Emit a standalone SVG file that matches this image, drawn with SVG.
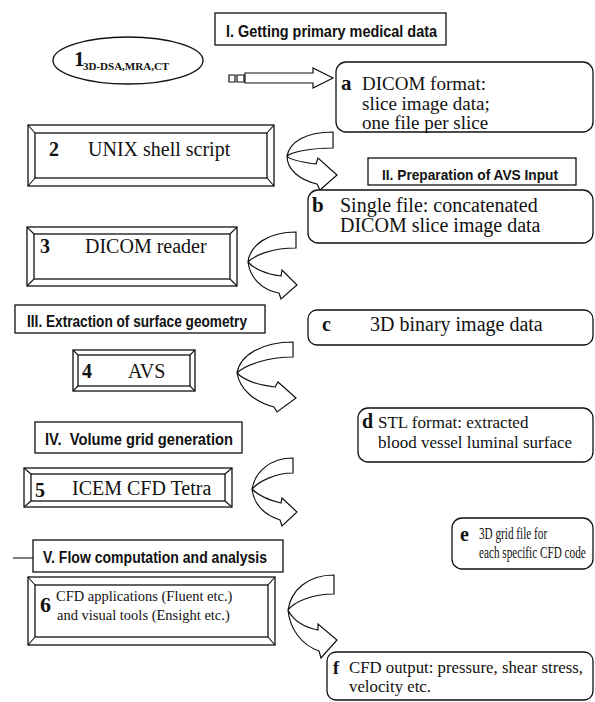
<svg xmlns="http://www.w3.org/2000/svg" width="595" height="702" viewBox="0 0 595 702">
<style>
.bx{fill:#fff;stroke:#111;stroke-width:1.3}
.ln{fill:none;stroke:#111;stroke-width:1.1}
.ar{fill:#fff;stroke:#111;stroke-width:1.2;stroke-linejoin:miter}
.t{font-family:"Liberation Serif","Times New Roman",serif;fill:#111}
.b{font-weight:bold}
.h{font-family:"Liberation Sans Narrow","Arial Narrow","Liberation Sans",Arial,sans-serif;font-weight:bold;fill:#111}
</style>
<rect width="595" height="702" fill="#fff"/>

<g id="connectors">
  <path class="ar" d="M229,75 h6 v7 h-6 Z M237,75 h7 v7 h-7 Z"/>
  <path class="ar" d="M245,73 H313 V68 L333,78 L313,88 V83 H245 Z"/>
  <path class="ar" d="M333,132 C305,132 290,142 287,156 C287,170 300,180 317,184 L320,190 L337,175 L318,158 L316,164 C300,162 290,160 287,156 C292,152 310,148 333,148 Z"/>
  <path class="ar" d="M296,232 C268,232 250,245 248,262 C250,278 262,290 279,293 L281,299 L297,285 L282,270 L281,276 C265,274 253,268 248,262 C255,255 272,248 296,248 Z"/>
  <path class="ar" d="M293,342 C262,342 240,355 237,373 C240,390 255,402 274,407 L277,412 L296,398 L278,382 L275,387 C258,385 244,380 237,373 C245,365 268,357 293,357 Z"/>
  <path class="ar" d="M293,458 C270,458 255,472 252,489 C254,505 265,515 280,520 L282,526 L297,512 L282,498 L281,503 C268,500 258,495 252,489 C258,482 275,473 293,473 Z"/>
  <path class="ar" d="M334,575 C308,575 291,590 288,610 C290,630 302,645 319,651 L321,658 L337,640 L318,624 L318,630 C303,627 293,620 288,610 C294,602 312,594 334,594 Z"/>
  <line class="ln" x1="13" y1="558" x2="33" y2="558"/>
</g>

<g id="title1">
  <rect class="bx" x="215" y="13" width="231" height="32"/>
  <text class="h" x="226" y="37" font-size="16" textLength="211" lengthAdjust="spacingAndGlyphs">I. Getting primary medical data</text>
</g>
<g id="title2">
  <rect class="bx" x="368" y="158" width="208" height="27"/>
  <text class="h" x="382" y="180" font-size="15" textLength="176" lengthAdjust="spacingAndGlyphs">II. Preparation of AVS Input</text>
</g>
<g id="title3">
  <rect class="bx" x="15" y="305" width="250" height="28"/>
  <text class="h" x="27" y="327" font-size="16" textLength="220" lengthAdjust="spacingAndGlyphs">III. Extraction of surface geometry</text>
</g>
<g id="title4">
  <rect class="bx" x="35" y="422" width="207" height="31"/>
  <text class="h" x="45" y="445" font-size="16" textLength="188" lengthAdjust="spacingAndGlyphs" xml:space="preserve">IV.  Volume grid generation</text>
</g>
<g id="title5">
  <rect class="bx" x="33" y="540" width="250" height="32"/>
  <text class="h" x="43" y="563" font-size="16" textLength="224" lengthAdjust="spacingAndGlyphs">V. Flow computation and analysis</text>
</g>

<g id="node1">
  <ellipse class="bx" cx="128" cy="60.5" rx="75" ry="23.5"/>
  <text class="t b" x="74" y="66" font-size="21">1</text>
  <text class="t b" x="83" y="70" font-size="11">3D-DSA,MRA,CT</text>
</g>

<g id="node2">
  <rect class="bx" x="28" y="125" width="246" height="61"/>
  <rect class="bx" x="35" y="133" width="232" height="45"/>
  <path class="ln" d="M28,125 L35,133 M274,125 L267,133 M28,186 L35,178 M274,186 L267,178"/>
  <text class="t b" x="49" y="156" font-size="20">2</text>
  <text class="t" x="88" y="156" font-size="20">UNIX shell script</text>
</g>
<g id="node3">
  <rect class="bx" x="27" y="227" width="210" height="59"/>
  <rect class="bx" x="34" y="234" width="196" height="45"/>
  <path class="ln" d="M27,227 L34,234 M237,227 L230,234 M27,286 L34,279 M237,286 L230,279"/>
  <text class="t b" x="40" y="253" font-size="20">3</text>
  <text class="t" x="85" y="253" font-size="20">DICOM reader</text>
</g>
<g id="node4">
  <rect class="bx" x="73" y="350" width="122" height="41"/>
  <rect class="bx" x="78" y="355" width="112" height="31"/>
  <path class="ln" d="M73,350 L78,355 M195,350 L190,355 M73,391 L78,386 M195,391 L190,386"/>
  <text class="t b" x="82" y="378" font-size="20">4</text>
  <text class="t" x="128" y="378" font-size="20">AVS</text>
</g>
<g id="node5">
  <rect class="bx" x="24" y="468" width="208" height="39"/>
  <rect class="bx" x="31" y="474" width="194" height="27"/>
  <path class="ln" d="M24,468 L31,474 M232,468 L225,474 M24,507 L31,501 M232,507 L225,501"/>
  <text class="t b" x="35" y="497" font-size="20">5</text>
  <text class="t" x="72" y="495" font-size="20">ICEM CFD Tetra</text>
</g>
<g id="node6">
  <rect class="bx" x="28" y="577" width="247" height="68"/>
  <rect class="bx" x="35" y="585" width="233" height="52"/>
  <path class="ln" d="M28,577 L35,585 M275,577 L268,585 M28,645 L35,637 M275,645 L268,637"/>
  <text class="t b" x="40" y="612" font-size="22">6</text>
  <text class="t" x="56" y="601" font-size="14.5">CFD applications (Fluent etc.)</text>
  <text class="t" x="57" y="620" font-size="14.5">and visual tools (Ensight etc.)</text>
</g>

<g id="nodeA">
  <rect class="bx" x="336" y="62" width="257" height="70" rx="10"/>
  <text class="t b" x="341" y="90" font-size="21">a</text>
  <text class="t" x="362" y="90" font-size="19">DICOM format:</text>
  <text class="t" x="362" y="110" font-size="19">slice image data;</text>
  <text class="t" x="362" y="129" font-size="19">one file per slice</text>
</g>
<g id="nodeB">
  <rect class="bx" x="308" y="190" width="285" height="53" rx="10"/>
  <text class="t b" x="312" y="212" font-size="21">b</text>
  <text class="t" x="340" y="212" font-size="20">Single file: concatenated</text>
  <text class="t" x="340" y="232" font-size="20">DICOM slice image data</text>
</g>
<g id="nodeC">
  <rect class="bx" x="308" y="310" width="285" height="35" rx="9"/>
  <text class="t b" x="322" y="331" font-size="20">c</text>
  <text class="t" x="370" y="331" font-size="20">3D binary image data</text>
</g>
<g id="nodeD">
  <rect class="bx" x="358" y="408" width="235" height="54" rx="10"/>
  <text class="t b" x="362" y="428" font-size="20">d</text>
  <text class="t" x="378" y="428" font-size="17">STL format: extracted</text>
  <text class="t" x="378" y="448" font-size="17">blood vessel luminal surface</text>
</g>
<g id="nodeE">
  <rect class="bx" x="452" y="518" width="141" height="51" rx="10"/>
  <text class="t b" x="460" y="541" font-size="20">e</text>
  <text class="t" transform="translate(479,539) scale(0.66,1)" font-size="17">3D grid file for</text>
  <text class="t" transform="translate(479,558) scale(0.66,1)" font-size="17">each specific CFD code</text>
</g>
<g id="nodeF">
  <rect class="bx" x="327" y="652" width="266" height="48" rx="9"/>
  <text class="t b" x="333" y="674" font-size="18">f</text>
  <text class="t" x="349" y="673" font-size="16.8">CFD output: pressure, shear stress,</text>
  <text class="t" x="349" y="692" font-size="16.8">velocity etc.</text>
</g>
</svg>
